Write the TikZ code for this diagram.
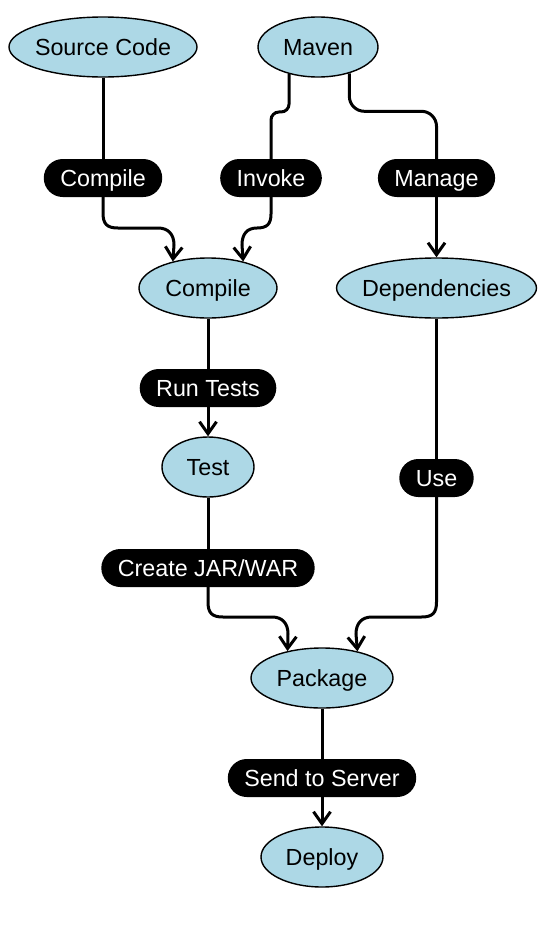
\documentclass[tikz,border=0pt]{standalone}
\usepackage{fontspec}
\setmainfont{Liberation Sans}
\usetikzlibrary{shapes.geometric,arrows.meta}
\definecolor{boxblue}{HTML}{ADD8E6}
\begin{document}
\begin{tikzpicture}
[x=1pt,y=-1pt,
 every node/.append style={font=\fontsize{23.3}{28}\selectfont,
                           text height=20pt, text depth=3.3pt},
 stage/.style={ellipse, draw, fill=boxblue, line width=1.4pt,
               inner sep=0pt, minimum height=60pt,
               execute at begin node={\hbox to 0pt\bgroup\hss},
               execute at end node={\hss\egroup}},
 tag/.style={fill=black, text=white, rounded corners=19pt,
             minimum height=38pt, inner xsep=16.5pt, inner ysep=0pt},
 flow/.style={line width=3pt},
 >={Straight Barb[length=12pt,width=17pt]}]
\useasboundingbox (0,0) rectangle (549,930);
% stages
\node[stage,minimum width=188pt] (src) at (103,47) {Source Code};
\node[stage,minimum width=120pt] (mvn) at (318,47) {Maven};
\node[stage,minimum width=138pt] (cmp) at (208,288) {Compile};
\node[stage,minimum width=200pt] (dep) at (436.5,288) {Dependencies};
\node[stage,minimum width=92pt] (tst) at (208,467) {Test};
\node[stage,minimum width=142pt] (pkg) at (322,678) {Package};
\node[stage,minimum width=122pt] (dpl) at (322,857) {Deploy};
% edge labels
\node[tag] (lcmp) at (103,178) {Compile};
\node[tag] (linv) at (271,178) {Invoke};
\node[tag] (lman) at (436.5,178) {Manage};
\node[tag] (lrun) at (208,388) {Run Tests};
\node[tag] (luse) at (436.5,478) {Use};
\node[tag] (ljar) at (208,568) {Create JAR/WAR};
\node[tag] (lsnd) at (322,778) {Send to Server};
% connectors
\draw[flow] (src) -- (lcmp);
\draw[flow,->] (lcmp.south) -- (103,213) .. controls (103,224) and (107,228) .. (118,228)
  -- (158,228) .. controls (168,228) and (174,234) .. (174,245) -- (cmp.143);
\draw[flow,rounded corners=8pt] (mvn.-137) -- ++(0,38) -| (linv.north);
\draw[flow,->] (linv.south) -- (271,214) .. controls (271,224) and (267,228) .. (257,228)
  .. controls (247,228) and (242,234) .. (242,245) -- (cmp.37);
\draw[flow,rounded corners=15pt] (mvn.-40) -- ++(0,38) -| (lman.north);
\draw[flow,->] (lman) -- (dep);
\draw[flow] (cmp) -- (lrun);
\draw[flow,->] (lrun) -- (tst);
\draw[flow] (tst) -- (ljar);
\draw[flow,->] (ljar.south) -- (208,602) .. controls (208,613) and (212,617) .. (223,617)
  -- (272,617) .. controls (282,617) and (288,623) .. (288,634) -- (pkg.142);
\draw[flow] (dep) -- (luse);
\draw[flow,->] (luse.south) -- (436.5,602) .. controls (436.5,613) and (432.5,617) .. (421.5,617)
  -- (372,617) .. controls (362,617) and (356,623) .. (356,634) -- (pkg.37);
\draw[flow] (pkg) -- (lsnd);
\draw[flow,->] (lsnd) -- (dpl);
\end{tikzpicture}
\end{document}
